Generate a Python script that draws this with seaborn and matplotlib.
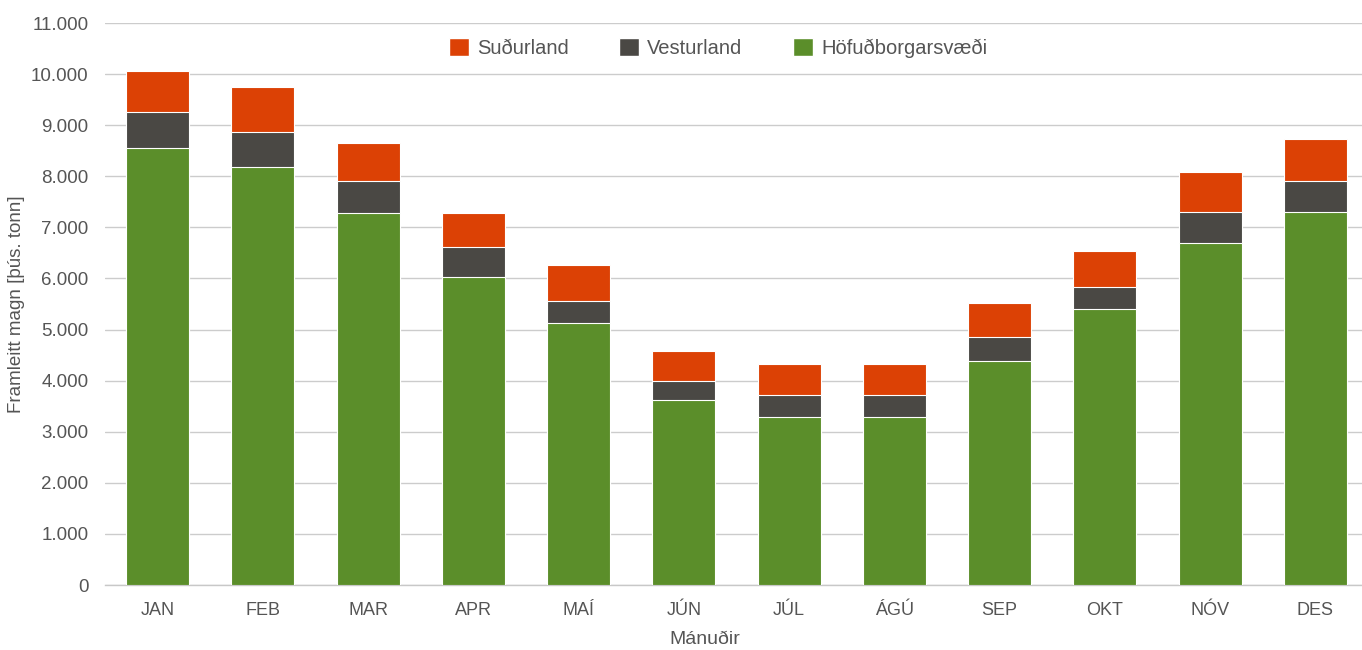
import pandas as pd
import matplotlib.pyplot as plt
import seaborn as sns
from matplotlib.patches import Patch
from matplotlib.ticker import FuncFormatter

months = ['JAN', 'FEB', 'MAR', 'APR', 'MAÍ', 'JÚN',
          'JÚL', 'ÁGÚ', 'SEP', 'OKT', 'NÓV', 'DES']
hofudborgarsvaedi = [8560, 8190, 7280, 6030, 5130, 3620,
                     3290, 3290, 4390, 5400, 6690, 7310]
vesturland = [690, 680, 620, 580, 430, 370, 430, 430, 470, 430, 620, 590]
sudurland = [810, 870, 760, 665, 700, 595, 600, 600, 660, 700, 765, 820]

colors = {'Suðurland': '#DC4105', 'Vesturland': '#4A4844',
          'Höfuðborgarsvæði': '#5B8E2A'}

df = pd.DataFrame({'month': months, 'hof': hofudborgarsvaedi,
                   'vest': vesturland, 'sud': sudurland})
df['vest_top'] = df['hof'] + df['vest']
df['sud_top'] = df['vest_top'] + df['sud']

sns.set_style('white')
plt.rcParams['font.family'] = ['Liberation Sans', 'DejaVu Sans']
text_col = '#555555'

fig = plt.figure(figsize=(13.62, 6.5), dpi=100)
ax = fig.add_axes([105 / 1362, 65 / 650, 1263 / 1362, 562 / 650])

# stacked bars: draw the cumulative tops first, then lower layers on top
for col, name in [('sud_top', 'Suðurland'), ('vest_top', 'Vesturland'),
                  ('hof', 'Höfuðborgarsvæði')]:
    sns.barplot(data=df, x='month', y=col, color=colors[name], width=0.6,
                saturation=1, edgecolor='white', linewidth=0.8, ax=ax,
                zorder=3)

ax.set_ylim(0, 11000)
ax.set_xlim(-0.5, 11.5)
ax.set_yticks(range(0, 11001, 1000))
ax.yaxis.set_major_formatter(FuncFormatter(lambda v, p: f'{int(v):,}'.replace(',', '.')))
ax.grid(axis='y', color='#cccccc', linewidth=1, zorder=0)
ax.set_axisbelow(True)

for s in ['left', 'right', 'top']:
    ax.spines[s].set_visible(False)
ax.spines['bottom'].set_color('#c8c8c8')
ax.spines['bottom'].set_linewidth(1)

ax.set_xticks([i - 0.5 for i in range(13)], minor=True)
ax.tick_params(axis='x', which='minor', length=6, color='#c8c8c8', width=1)
ax.tick_params(axis='x', which='major', length=0, pad=12,
               labelsize=13, labelcolor=text_col)
ax.tick_params(axis='y', length=0, pad=12, labelsize=13.5, labelcolor=text_col)

ax.set_xlabel('Mánuðir', fontsize=14, color=text_col)
ax.xaxis.set_label_coords((705 - 105) / 1263, -46 / 562)
ax.set_ylabel('Framleitt magn [þús. tonn]', fontsize=13.5, color=text_col)
ax.yaxis.set_label_coords((25 - 105) / 1263, 0.5)

handles = [Patch(facecolor=colors[n], label=n)
           for n in ['Suðurland', 'Vesturland', 'Höfuðborgarsvæði']]
fig.legend(handles=handles, loc='center', bbox_to_anchor=(718 / 1362, 1 - 48 / 650),
           ncol=3, frameon=False, fontsize=14.5, labelcolor=text_col,
           handlelength=1.0, handleheight=1.0, handletextpad=0.4,
           columnspacing=2.5)

fig.savefig('out.png', dpi=100)
